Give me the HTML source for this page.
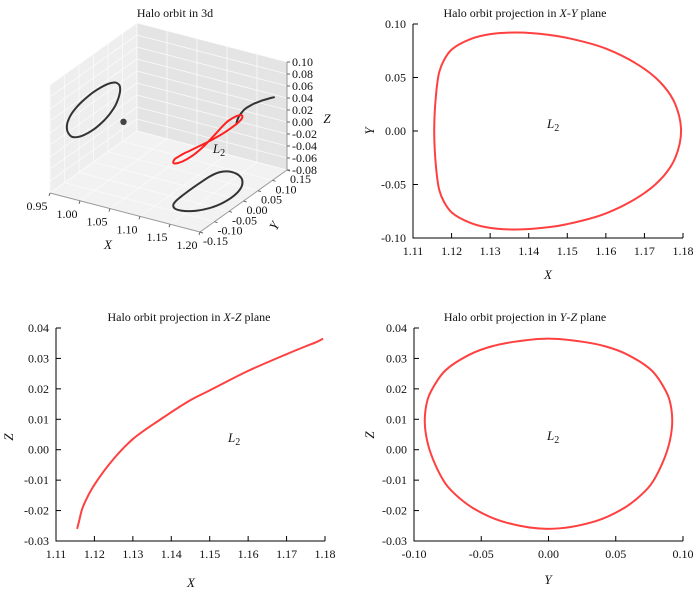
<!DOCTYPE html>
<html><head><meta charset="utf-8">
<style>
html,body{margin:0;padding:0;background:#fff;}
svg{display:block;font-family:"Liberation Serif",serif;}
text{fill:#111;}
</style></head>
<body>
<svg id="fig" width="700" height="590" viewBox="0 0 700 590"></svg>
<script>
// Orbit samples (read from projections)
const orbitX = [1.1155,1.116,1.1168,1.118,1.12,1.125,1.13,1.137,1.145,1.15,1.16,1.17,1.175,1.178,1.1795,1.178,1.175,1.17,1.16,1.15,1.145,1.137,1.13,1.125,1.12,1.118,1.1168,1.116];
const orbitY = [0,0.035,0.055,0.066,0.076,0.086,0.0905,0.092,0.090,0.087,0.077,0.058,0.042,0.025,0,-0.025,-0.042,-0.058,-0.077,-0.087,-0.090,-0.092,-0.0905,-0.086,-0.076,-0.066,-0.055,-0.035];
const orbitZ = [-0.026,-0.0235,-0.0195,-0.016,-0.0115,-0.003,0.0035,0.0098,0.0163,0.0195,0.0259,0.0314,0.034,0.0355,0.0365,0.0355,0.034,0.0314,0.0259,0.0195,0.0163,0.0098,0.0035,-0.003,-0.0115,-0.016,-0.0195,-0.0235];
const moonPos = [1.0, 0, 0];
const l2Pos = [1.1557, 0, 0];
const ticksXY_X = [1.11,1.12,1.13,1.14,1.15,1.16,1.17,1.18];
const ticksXY_Y = [-0.10,-0.05,0.00,0.05,0.10];
const ticksZ2D = [-0.03,-0.02,-0.01,0.00,0.01,0.02,0.03,0.04];
const ticksYZ_Y = [-0.10,-0.05,0.00,0.05,0.10];
const ticks3dX = [0.95,1.00,1.05,1.10,1.15,1.20];
const ticks3dY = [-0.15,-0.10,-0.05,0.00,0.05,0.10,0.15];
const ticks3dZ = [-0.08,-0.06,-0.04,-0.02,0.00,0.02,0.04,0.06,0.08,0.10];

const NS="http://www.w3.org/2000/svg";
const svg=document.getElementById('fig');
function el(tag,attrs,parent){const e=document.createElementNS(NS,tag);for(const k in attrs)e.setAttribute(k,attrs[k]);(parent||svg).appendChild(e);return e;}
function txt(s,x,y,anchor,size,parent,italic){const t=el('text',{x:x,y:y,'text-anchor':anchor||'middle','font-size':size||12},parent);if(italic)t.setAttribute('font-style','italic');t.textContent=s;return t;}
function fmt(v,d){let s=Math.abs(v).toFixed(d);return (v<-1e-9?'-':'')+s;}
function spline(pts,closed){
  const n=pts.length;let d='M'+pts[0][0].toFixed(2)+','+pts[0][1].toFixed(2);
  const m=closed?n:n-1;
  const dist=(a,b)=>Math.max(Math.sqrt(Math.hypot(a[0]-b[0],a[1]-b[1])),1e-4);
  for(let i=0;i<m;i++){
    const p0=pts[closed?(i-1+n)%n:Math.max(i-1,0)],p1=pts[i],p2=pts[(i+1)%n],p3=pts[closed?(i+2)%n:Math.min(i+2,n-1)];
    const d1=dist(p0,p1),d2=dist(p1,p2),d3=dist(p2,p3);
    const t1=[0,1].map(k=>(p2[k]-p1[k])/d2-(p2[k]-p0[k])/(d1+d2)+(p1[k]-p0[k])/d1);
    const t2=[0,1].map(k=>(p2[k]-p1[k])/d2-(p3[k]-p1[k])/(d2+d3)+(p3[k]-p2[k])/d3);
    const c1=[p1[0]+t1[0]*d2/3,p1[1]+t1[1]*d2/3],c2=[p2[0]-t2[0]*d2/3,p2[1]-t2[1]*d2/3];
    d+='C'+c1[0].toFixed(2)+','+c1[1].toFixed(2)+' '+c2[0].toFixed(2)+','+c2[1].toFixed(2)+' '+p2[0].toFixed(2)+','+p2[1].toFixed(2);
  }
  if(closed)d+='Z';return d;
}
function l2label(x,y,g){const t=el('text',{x:x,y:y,'font-size':13,'font-style':'italic'},g);t.textContent='L';const s=el('tspan',{'font-size':10,dy:3,'font-style':'normal'},t);s.textContent='2';return t;}

function panel(o){
  const g=el('g',{});
  
  
  const sx=v=>o.x0+(v-o.xd[0])/(o.xd[1]-o.xd[0])*(o.x1-o.x0);
  const sy=v=>o.y1-(v-o.yd[0])/(o.yd[1]-o.yd[0])*(o.y1-o.y0);
  const t=el('text',{x:o.tx,y:o.ty,'text-anchor':'middle','font-size':12},g);
  
  t.appendChild(document.createTextNode('Halo orbit projection in '));
  let a=el('tspan',{'font-style':'italic'},t);a.textContent=o.a1;
  t.appendChild(document.createTextNode('-'));
  a=el('tspan',{'font-style':'italic'},t);a.textContent=o.a2;
  t.appendChild(document.createTextNode(' plane'));
  const ax=el('path',{d:`M${o.x0},${o.y0}V${o.y1}H${o.x1}`,stroke:'#000','stroke-width':1,fill:'none'},g);
  
  o.xt.forEach(v=>{el('line',{x1:sx(v),x2:sx(v),y1:o.y1,y2:o.y1-5,stroke:'#000'},g);const l=txt(fmt(v,2),sx(v),o.y1+17,'middle',12,g);});
  o.yt.forEach(v=>{el('line',{x1:o.x0,x2:o.x0+5,y1:sy(v),y2:sy(v),stroke:'#000'},g);const l=txt(fmt(v,2),o.x0-7,sy(v)+4,'end',12,g);});
  const xl=txt(o.a1,o.xlx,o.xly,'middle',13,g,true);
  const yl=txt(o.a2,0,0,'middle',13,g,true);yl.setAttribute('transform',`translate(${o.ylx},${o.yly}) rotate(-90)`);
  
  const pts=o.xs.map((v,i)=>[sx(v),sy(o.ys[i])]);
  const p=el('path',{d:spline(pts,o.closed),stroke:'#ff4040','stroke-width':2,fill:'none'},g);
  
  const L=l2label(o.lx,o.ly,g);
}
panel({name:'xy-projection-chart',x0:413,x1:683,y0:24,y1:238,xd:[1.11,1.18],yd:[-0.10,0.10],xt:ticksXY_X,yt:ticksXY_Y,
  a1:'X',a2:'Y',tx:525,ty:17,xlx:548,xly:279,ylx:374,yly:131,xs:orbitX,ys:orbitY,closed:true,lx:547,ly:128});
panel({name:'xz-projection-chart',x0:56,x1:325,y0:328,y1:541,xd:[1.11,1.18],yd:[-0.03,0.04],xt:ticksXY_X,yt:ticksZ2D,
  a1:'X',a2:'Z',tx:189,ty:321,xlx:191,xly:587,ylx:13,yly:437,xs:orbitX.slice(0,15),ys:orbitZ.slice(0,15),closed:false,lx:228,ly:442});
panel({name:'yz-projection-chart',x0:414,x1:683,y0:328,y1:541,xd:[-0.10,0.10],yd:[-0.03,0.04],xt:ticksYZ_Y,yt:ticksZ2D,
  a1:'Y',a2:'Z',tx:525,ty:321,xlx:548,xly:584,ylx:374,yly:435,xs:orbitY,ys:orbitZ,closed:true,lx:547,ly:440});

(function(){
  const g=el('g',{});
  
  
  const X0=0.95,X1=1.20,Y0=-0.15,Y1=0.15,Z0=-0.08,Z1=0.10;
  const P=(x,y,z)=>[50+(x-X0)/(X1-X0)*150+(y-Y0)/(Y1-Y0)*87, 193+(x-X0)/(X1-X0)*39-(y-Y0)/(Y1-Y0)*62-(z-Z0)/(Z1-Z0)*108];
  const poly=(ps,fill,name)=>{const e=el('polygon',{points:ps.map(p=>p.join(',')).join(' '),fill:fill,stroke:'none'},g);};
  poly([P(X0,Y0,Z0),P(X0,Y1,Z0),P(X0,Y1,Z1),P(X0,Y0,Z1)],'#eeeeee','left-pane');
  poly([P(X0,Y1,Z0),P(X1,Y1,Z0),P(X1,Y1,Z1),P(X0,Y1,Z1)],'#e4e4e4','back-pane');
  poly([P(X0,Y0,Z0),P(X1,Y0,Z0),P(X1,Y1,Z0),P(X0,Y1,Z0)],'#f2f2f2','floor-pane');
  const gl=(a,b)=>el('line',{x1:a[0],y1:a[1],x2:b[0],y2:b[1],stroke:'#fafafa','stroke-width':0.8},g);
  ticks3dX.forEach(v=>{gl(P(v,Y0,Z0),P(v,Y1,Z0));gl(P(v,Y1,Z0),P(v,Y1,Z1));});
  ticks3dY.forEach(v=>{gl(P(X0,v,Z0),P(X1,v,Z0));gl(P(X0,v,Z0),P(X0,v,Z1));});
  ticks3dZ.forEach(v=>{gl(P(X0,Y0,v),P(X0,Y1,v));gl(P(X0,Y1,v),P(X1,Y1,v));});
  const axl=(a,b,n)=>{const e=el('line',{x1:a[0],y1:a[1],x2:b[0],y2:b[1],stroke:'#999','stroke-width':1},g);};
  axl(P(X0,Y0,Z0),P(X1,Y0,Z0),'x-axis');axl(P(X1,Y0,Z0),P(X1,Y1,Z0),'y-axis');axl(P(X1,Y1,Z0),P(X1,Y1,Z1),'z-axis');
  ticks3dX.forEach(v=>{const p=P(v,Y0,Z0);el('line',{x1:p[0],y1:p[1],x2:p[0]-1,y2:p[1]+3,stroke:'#666'},g);const l=txt(v.toFixed(2),p[0]-13,p[1]+17,'middle',12,g);});
  ticks3dY.forEach(v=>{const p=P(X1,v,Z0);el('line',{x1:p[0],y1:p[1],x2:p[0]+3,y2:p[1]+1,stroke:'#666'},g);const l=txt(fmt(v,2),p[0]+3,p[1]+13,'start',12,g);});
  ticks3dZ.forEach(v=>{const p=P(X1,Y1,v);el('line',{x1:p[0],y1:p[1],x2:p[0]+3,y2:p[1],stroke:'#666'},g);const l=txt(fmt(v,2),p[0]+5,p[1]+4,'start',12,g);});
  const tt=txt('Halo orbit in 3d',175,17,'middle',12,g);
  const xt=txt('X',108,249,'middle',13,g,true);
  const yt=txt('Y',0,0,'middle',13,g,true);yt.setAttribute('transform','translate(278,228) rotate(-60)');
  const zt=txt('Z',327,123,'middle',13,g,true);
  const curve=(pts,closed,color,name)=>{const e=el('path',{d:spline(pts,closed),stroke:color,'stroke-width':2,fill:'none'},g);};
  curve(orbitY.map((v,i)=>P(X0,v,orbitZ[i])),true,'#333','yz-shadow');
  curve(orbitX.map((v,i)=>P(v,orbitY[i],Z0)),true,'#333','xy-shadow');
  curve(orbitX.slice(0,15).map((v,i)=>P(v,Y1,orbitZ[i])),false,'#333','xz-shadow');
  curve(orbitX.map((v,i)=>P(v,orbitY[i],orbitZ[i])),true,'#ff2020','orbit-3d');
  const m=P(moonPos[0],moonPos[1],moonPos[2]);
  const mc=el('circle',{cx:m[0],cy:m[1],r:3.2,fill:'#444'},g);
  const lp=P(l2Pos[0],l2Pos[1],l2Pos[2]);
  const L=l2label(lp[0]-4,lp[1]+7,g);
})();
</script>
</body></html>
